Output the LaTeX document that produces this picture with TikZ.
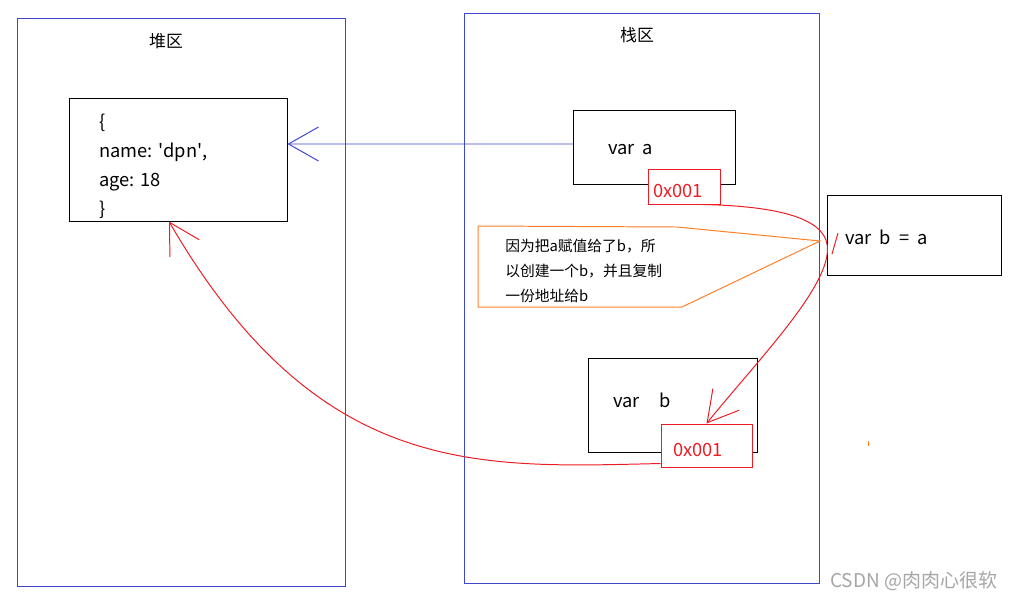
\documentclass[tikz,border=0pt]{standalone}
\usepackage{fontspec}
\setmainfont{Noto Sans CJK SC}
\usetikzlibrary{arrows.meta}
\definecolor{paintblue}{HTML}{3F48CC}
\definecolor{paintred}{HTML}{ED1C24}
\definecolor{paintorange}{HTML}{FF7F27}

\begin{document}
\begin{tikzpicture}[x=0.025cm,y=-0.025cm]
  % Define style for areas, boxes and pointers
  \tikzstyle{area} = [draw=paintblue, line width=0.7pt, rectangle, inner sep=0pt]
  \tikzstyle{box} = [draw=black, line width=0.7pt, rectangle, fill=white, inner sep=0pt]
  \tikzstyle{addr} = [draw=paintred, line width=0.7pt, rectangle, fill=white, inner sep=0pt]
  \tikzstyle{code} = [anchor=base west, inner sep=0pt, font=\fontsize{13}{15}\selectfont]
  \tikzstyle{note} = [anchor=base west, inner sep=0pt, font=\fontsize{10.5}{12}\selectfont]
  \tikzstyle{ptr} = [line width=0.7pt, -{Straight Barb[length=0.75cm,width=0.85cm,line width=0.7pt]}]

  \fill[white] (0,0) rectangle (1017,600);
  \useasboundingbox (0,0) rectangle (1017,600);

  % Heap and stack
  \node(heap)[area, minimum width=8.175cm, minimum height=14.175cm] at (181.5,302.5) {};
  \node(stack)[area, minimum width=8.875cm, minimum height=14.225cm] at (642,298.5) {};
  \node(heapt)[font=\fontsize{12}{14}\selectfont] at (166,41) {堆区};
  \node(stackt)[font=\fontsize{12}{14}\selectfont] at (637,35) {栈区};

  % The object
  \node(obj)[box, minimum width=5.425cm, minimum height=3.05cm] at (178.5,160) {};
  \foreach \ln/\txt in {1/{\{}, 2/{name: \textquotesingle dpn\textquotesingle,}, 3/{age: 18}, 4/{\}}} {
    \node(objl\ln)[code] at ({99},{98.7+29.3*\ln}) {\txt};
  }

  % Variables
  \node(vara)[box, minimum width=4.025cm, minimum height=1.85cm] at (654.5,147) {};
  \node(varat)[code] at (608,154) {var\ \ a};
  \node(varba)[box, minimum width=4.325cm, minimum height=2cm] at (914.5,235) {};
  \node(varbat)[code] at (845,244) {var\ \ b\ \ =\ \ a};
  \node(varb)[box, minimum width=4.2cm, minimum height=2.35cm] at (673,405) {};
  \node(varbt)[code] at (613,407) {var\hspace*{14pt}b};

  \node(addra)[addr, minimum width=1.8cm, minimum height=0.875cm] at (684,186.5) {};
  \node(addrat)[code, text=paintred] at (653,197) {0x001};
  \node(addrb)[addr, minimum width=2.275cm, minimum height=1.075cm] at (706.5,445.5) {};
  \node(addrbt)[code, text=paintred] at (673,456) {0x001};

  % Note
  \draw[paintorange, line width=0.7pt]
    (478,226) -- (677,227) -- (820,241) -- (682,307) -- (478,307) -- cycle;
  \foreach \ln/\txt in {1/因为把a赋值给了b，所, 2/以创建一个b，并且复制, 3/一份地址给b} {
    \node(notel\ln)[note] at ({505},{226+25*\ln}) {\txt};
  }

  % Pointers
  \draw[ptr, draw=paintblue] ([yshift=0.075cm]vara.west) -- ([yshift=0.4cm]obj.east);
  \draw[ptr, draw=paintred] ([xshift=0.475cm]addra.south)
    .. controls +(87,2) and +(1,-28) .. ([yshift=-0.375cm]varba.west)
    .. controls +(-1,40) and +(52,-64) .. (addrb.north);
  \draw[ptr, draw=paintred] ([yshift=-0.45cm]addrb.west)
    .. controls +(-181,4) and +(150,258) .. ([xshift=-0.2375cm]obj.south);
  \draw[paintred, line width=0.7pt] (832,254) -- (838,233);
  \draw[paintorange, line width=0.7pt] (868,441) -- (868,446);

  \node(mark)[anchor=east, text=gray!70, font=\fontsize{13.5}{15}\selectfont] at (1002,581) {CSDN @肉肉心很软};
\end{tikzpicture}
\end{document}
